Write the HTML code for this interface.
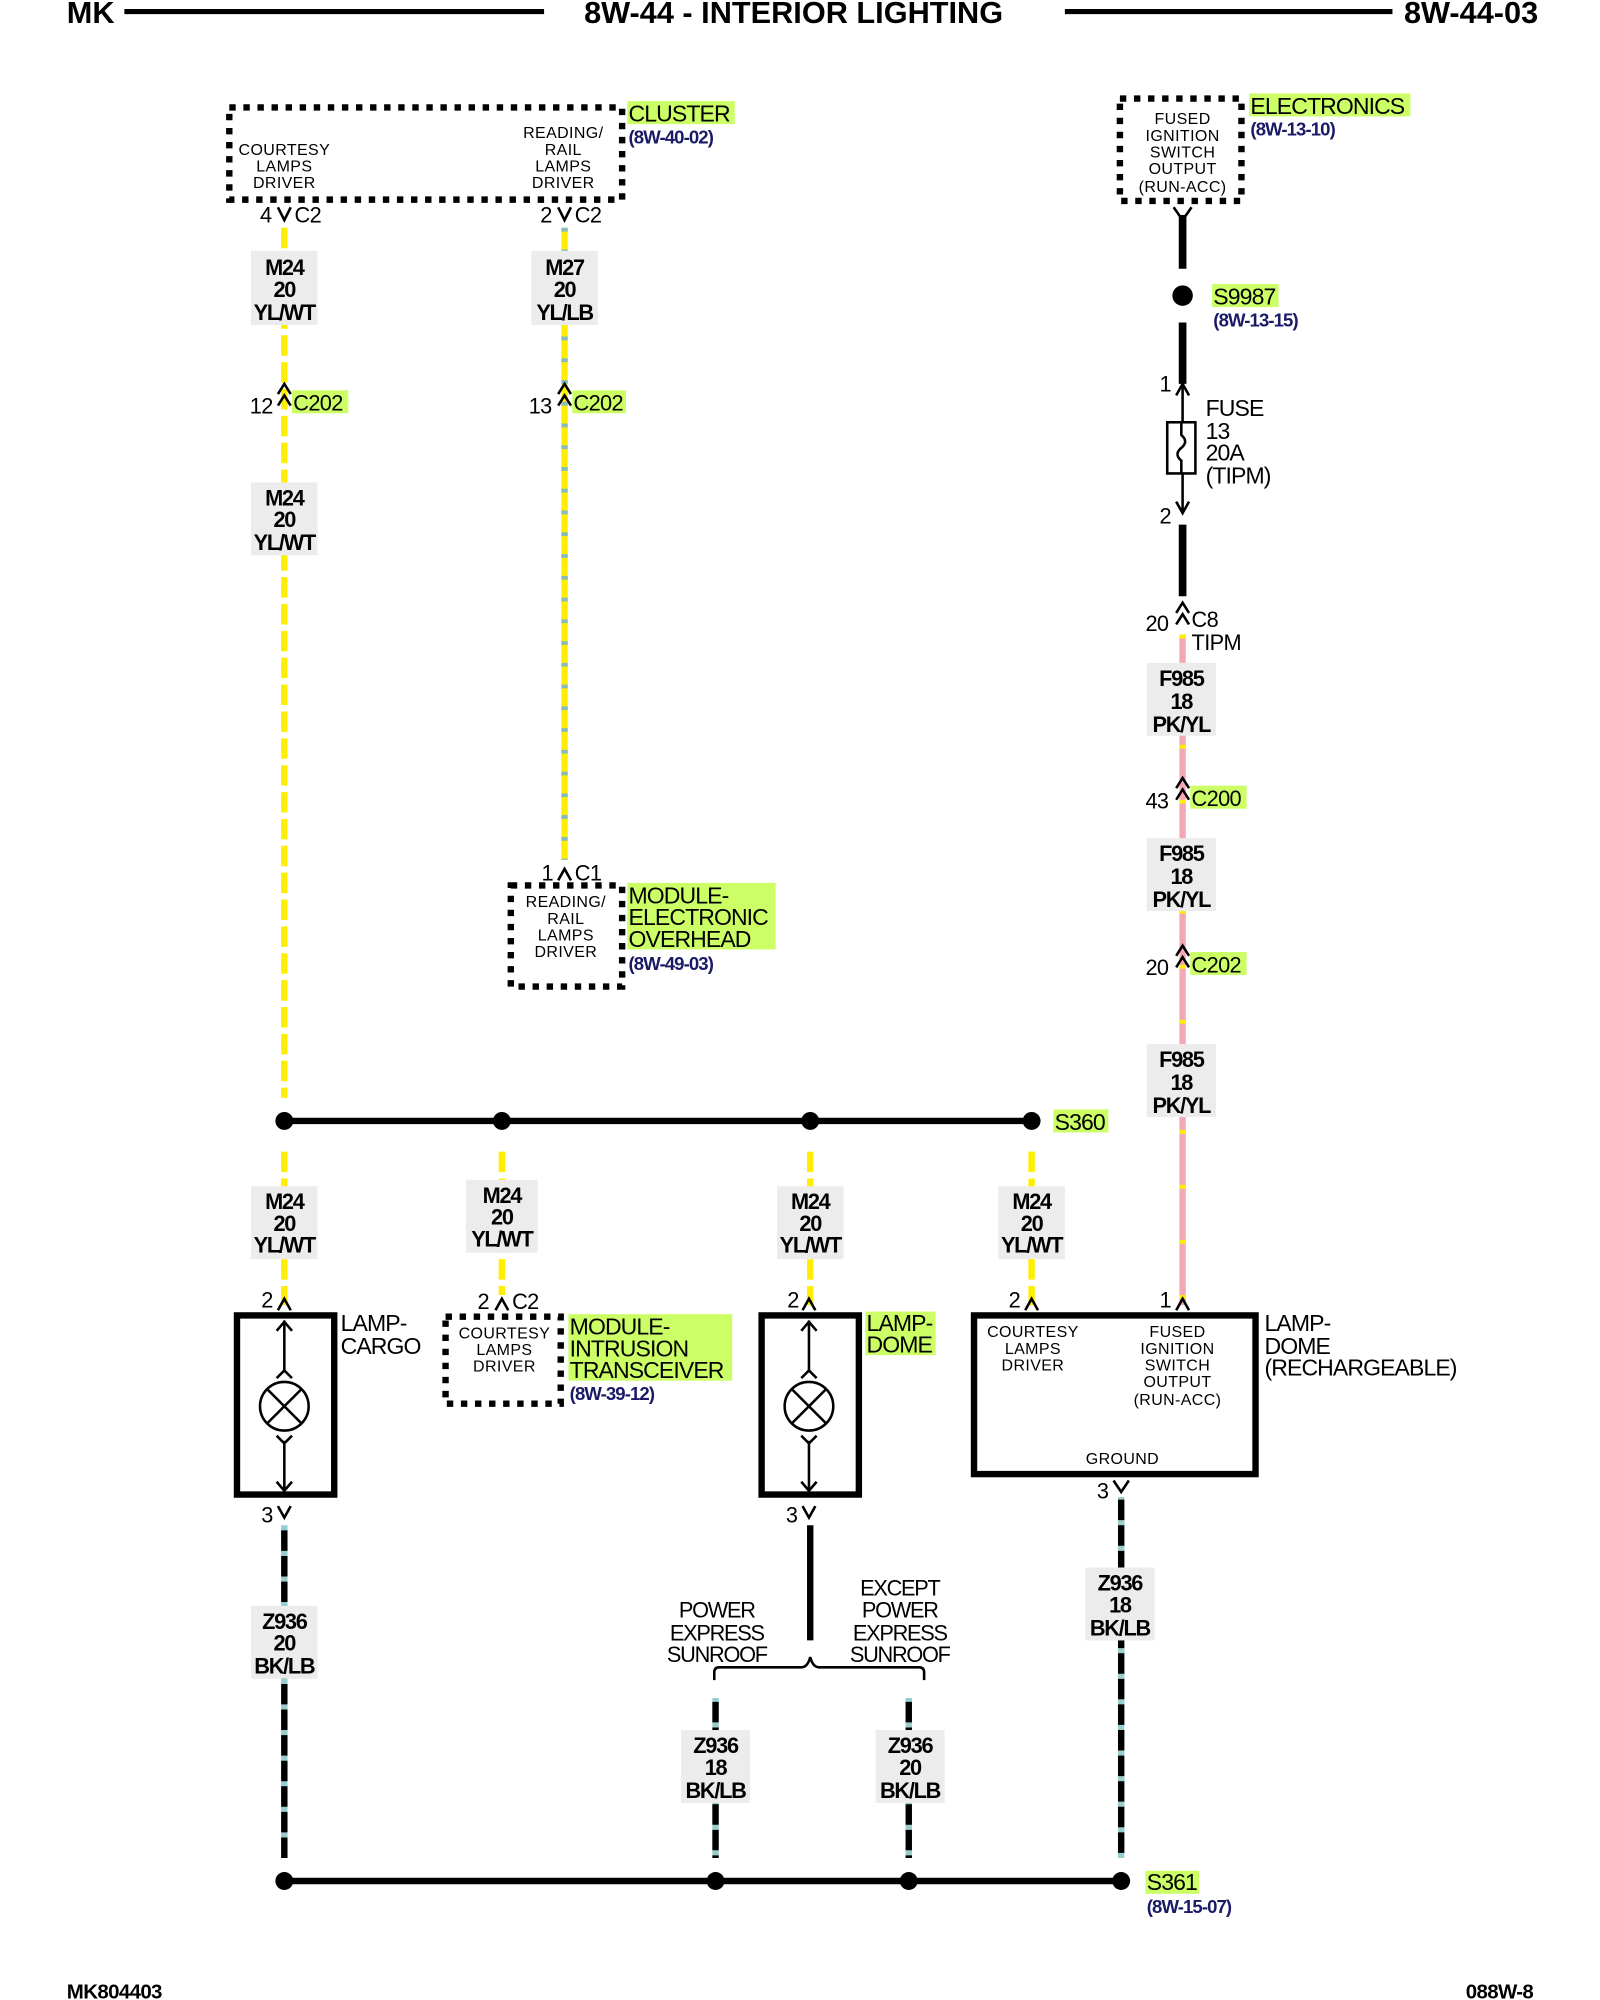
<!DOCTYPE html>
<html><head><meta charset="utf-8"><style>
html,body{margin:0;padding:0;background:#fff}
svg{display:block}
text{font-family:"Liberation Sans",sans-serif;fill:#000}
.t{font-size:24px;font-weight:bold}
.w{font-size:17px;font-weight:bold;letter-spacing:-1px;text-anchor:middle}
.n{font-size:17px;letter-spacing:-0.5px}
.s{font-size:12.5px;text-anchor:middle;letter-spacing:0.3px}
.r{font-size:14.5px;fill:#1a1a66;letter-spacing:-0.7px;font-weight:bold}
.b{font-size:18px;letter-spacing:-0.7px}
</style></head><body>
<svg width="1600" height="2000" viewBox="0 0 1250 1563" xmlns="http://www.w3.org/2000/svg">
<text class="t" x="52" y="18">MK</text>
<line x1="97" y1="9" x2="425" y2="9" stroke="#000" stroke-width="4"/>
<text class="t" x="620" y="18" text-anchor="middle">8W-44 - INTERIOR LIGHTING</text>
<line x1="832" y1="9" x2="1088" y2="9" stroke="#000" stroke-width="4"/>
<text class="t" x="1097" y="18">8W-44-03</text>

<g fill="#ccff66">
<rect x="490" y="79" width="84" height="18"/>
<rect x="976" y="73" width="126" height="18"/>
<rect x="947" y="222" width="52" height="18"/>
<rect x="447" y="305" width="42" height="18"/>
<rect x="228" y="305" width="44" height="18"/>
<rect x="490" y="690" width="116" height="52"/>
<rect x="930" y="614" width="44" height="18"/>
<rect x="930" y="744" width="44" height="18"/>
<rect x="823" y="867" width="43" height="18"/>
<rect x="444" y="1027" width="128" height="52"/>
<rect x="676" y="1025" width="55" height="34"/>
<rect x="895" y="1462" width="42" height="18"/>
</g>

<g stroke-width="5" fill="none">
<line x1="222" y1="178" x2="222" y2="858" stroke="#ffee00" stroke-dasharray="16 5"/>
<line x1="441" y1="178" x2="441" y2="672" stroke="#ffee00"/>
<line x1="441" y1="178" x2="441" y2="672" stroke="#88bbbb" stroke-dasharray="3 14"/>
<line x1="222" y1="900" x2="222" y2="1020" stroke="#ffee00" stroke-dasharray="16 5"/>
<line x1="392" y1="900" x2="392" y2="1012" stroke="#ffee00" stroke-dasharray="16 5"/>
<line x1="633" y1="900" x2="633" y2="1020" stroke="#ffee00" stroke-dasharray="16 5"/>
<line x1="806" y1="900" x2="806" y2="1020" stroke="#ffee00" stroke-dasharray="16 5"/>
<line x1="924" y1="496" x2="924" y2="1020" stroke="#f4a8b4"/>
<line x1="924" y1="496" x2="924" y2="1020" stroke="#ffee00" stroke-dasharray="3 40"/>
<line x1="924" y1="168" x2="924" y2="210" stroke="#000" stroke-width="6"/>
<line x1="924" y1="252" x2="924" y2="300" stroke="#000" stroke-width="6"/>
<line x1="924" y1="300" x2="924" y2="400" stroke="#000" stroke-width="2"/>
<line x1="924" y1="410" x2="924" y2="466" stroke="#000" stroke-width="6"/>
<line x1="222" y1="1192" x2="222" y2="1452" stroke="#9cc"/>
<line x1="222" y1="1196" x2="222" y2="1452" stroke="#000" stroke-dasharray="16 4"/>
<line x1="559" y1="1327" x2="559" y2="1452" stroke="#9cc"/>
<line x1="559" y1="1330" x2="559" y2="1452" stroke="#000" stroke-dasharray="16 4"/>
<line x1="710" y1="1327" x2="710" y2="1452" stroke="#9cc"/>
<line x1="710" y1="1330" x2="710" y2="1452" stroke="#000" stroke-dasharray="16 4"/>
<line x1="876" y1="1170" x2="876" y2="1452" stroke="#9cc"/>
<line x1="876" y1="1172" x2="876" y2="1452" stroke="#000" stroke-dasharray="16 4"/>
<line x1="633" y1="1192" x2="633" y2="1282" stroke="#000"/>
</g>

<g fill="#ececec">
<rect x="196" y="196" width="52" height="58"/>
<rect x="196" y="377" width="52" height="57"/>
<rect x="415" y="196" width="52" height="58"/>
<rect x="896" y="518" width="54" height="57"/>
<rect x="896" y="655" width="54" height="57"/>
<rect x="896" y="816" width="54" height="57"/>
<rect x="196" y="927" width="52" height="57"/>
<rect x="364" y="922" width="56" height="57"/>
<rect x="607" y="927" width="52" height="57"/>
<rect x="780" y="927" width="52" height="57"/>
<rect x="196" y="1255" width="52" height="57"/>
<rect x="532" y="1352" width="54" height="57"/>
<rect x="684" y="1352" width="54" height="57"/>
<rect x="848" y="1225" width="54" height="57"/>
</g>

<line x1="222" y1="876" x2="806" y2="876" stroke="#000" stroke-width="5"/>
<line x1="222" y1="1470" x2="876" y2="1470" stroke="#000" stroke-width="5"/>
<g fill="#000">
<circle cx="222" cy="876" r="7"/><circle cx="392" cy="876" r="7"/><circle cx="633" cy="876" r="7"/><circle cx="806" cy="876" r="7"/>
<circle cx="222" cy="1470" r="7"/><circle cx="559" cy="1470" r="7"/><circle cx="710" cy="1470" r="7"/><circle cx="876" cy="1470" r="7"/>
<circle cx="924" cy="231" r="8"/>
</g>

<g fill="none" stroke="#000" stroke-width="5" stroke-dasharray="5 6">
<rect x="179" y="84" width="307" height="72"/>
<rect x="875" y="77" width="95" height="80"/>
<rect x="399" y="692" width="87" height="79"/>
<rect x="348" y="1029" width="90" height="68"/>
</g>

<g fill="none" stroke="#000" stroke-width="5">
<rect x="185" y="1028" width="76" height="140"/>
<rect x="595" y="1028" width="76" height="140"/>
<rect x="761" y="1028" width="220" height="124"/>
</g>
<g fill="none" stroke="#000" stroke-width="2">
<circle cx="222" cy="1099" r="19"/><line x1="209" y1="1086" x2="235" y2="1112"/><line x1="235" y1="1086" x2="209" y2="1112"/>
<line x1="222" y1="1032" x2="222" y2="1072"/><line x1="222" y1="1126" x2="222" y2="1164"/>
<polyline points="216,1040 222,1033 228,1040"/><polyline points="216,1077 222,1071 228,1077"/>
<polyline points="216,1122 222,1128 228,1122"/><polyline points="216,1158 222,1165 228,1158"/>
<circle cx="632" cy="1099" r="19"/><line x1="619" y1="1086" x2="645" y2="1112"/><line x1="645" y1="1086" x2="619" y2="1112"/>
<line x1="632" y1="1032" x2="632" y2="1072"/><line x1="632" y1="1126" x2="632" y2="1164"/>
<polyline points="626,1040 632,1033 638,1040"/><polyline points="626,1077 632,1071 638,1077"/>
<polyline points="626,1122 632,1128 638,1122"/><polyline points="626,1158 632,1165 638,1158"/>
<rect x="912" y="330" width="22" height="40" fill="#fff"/>
<path d="M923,330 v10 q6,5 0,10 q-6,5 0,10 v10"/>
<polyline points="919,309 924,300 929,309"/><polyline points="919,392 924,401 929,392"/>
<polyline points="217,162 222,172 227,162"/><polyline points="436,162 441,172 446,162"/>
<polyline points="917,162 924,172 931,162"/>
<polyline points="217,308 222,300 227,308"/><polyline points="217,317 222,309 227,317"/>
<polyline points="436,308 441,300 446,308"/><polyline points="436,317 441,309 446,317"/>
<polyline points="919,479 924,471 929,479"/><polyline points="919,488 924,480 929,488"/>
<polyline points="919,616 924,608 929,616"/><polyline points="919,625 924,617 929,625"/>
<polyline points="919,747 924,739 929,747"/><polyline points="919,756 924,748 929,756"/>
<polyline points="436,688 441,679 446,688"/>
<polyline points="217,1024 222,1015 227,1024"/><polyline points="387,1024 392,1015 397,1024"/>
<polyline points="627,1024 632,1015 637,1024"/><polyline points="801,1024 806,1015 811,1024"/>
<polyline points="919,1024 924,1015 929,1024"/>
<polyline points="217,1177 222,1186 227,1177"/><polyline points="627,1177 632,1186 637,1177"/>
<polyline points="870,1157 876,1166 882,1157"/>
<path d="M558,1313 v-6 q0,-4 4,-4 h64 q5,0 7,-8 q2,8 7,8 h78 q4,0 4,4 v6"/>
</g>

<text class="s" x="222" y="121">COURTESY</text><text class="s" x="222" y="134">LAMPS</text><text class="s" x="222" y="147">DRIVER</text>
<text class="s" x="440" y="108">READING/</text><text class="s" x="440" y="121">RAIL</text><text class="s" x="440" y="134">LAMPS</text><text class="s" x="440" y="147">DRIVER</text>
<text class="s" x="924" y="97">FUSED</text><text class="s" x="924" y="110">IGNITION</text><text class="s" x="924" y="123">SWITCH</text><text class="s" x="924" y="136">OUTPUT</text><text class="s" x="924" y="150">(RUN-ACC)</text>
<text class="s" x="442" y="709">READING/</text><text class="s" x="442" y="722">RAIL</text><text class="s" x="442" y="735">LAMPS</text><text class="s" x="442" y="748">DRIVER</text>
<text class="s" x="394" y="1046">COURTESY</text><text class="s" x="394" y="1059">LAMPS</text><text class="s" x="394" y="1072">DRIVER</text>
<text class="s" x="807" y="1045">COURTESY</text><text class="s" x="807" y="1058">LAMPS</text><text class="s" x="807" y="1071">DRIVER</text>
<text class="s" x="920" y="1045">FUSED</text><text class="s" x="920" y="1058">IGNITION</text><text class="s" x="920" y="1071">SWITCH</text><text class="s" x="920" y="1084">OUTPUT</text><text class="s" x="920" y="1098">(RUN-ACC)</text>
<text class="s" x="877" y="1144">GROUND</text>

<text class="b" x="491" y="95">CLUSTER</text><text class="r" x="491" y="112">(8W-40-02)</text>
<text class="b" x="977" y="89">ELECTRONICS</text><text class="r" x="977" y="106">(8W-13-10)</text>
<text class="b" x="948" y="238">S9987</text><text class="r" x="948" y="255">(8W-13-15)</text>
<text class="b" x="491" y="706">MODULE-</text><text class="b" x="491" y="723">ELECTRONIC</text><text class="b" x="491" y="740">OVERHEAD</text><text class="r" x="491" y="758">(8W-49-03)</text>
<text class="b" x="824" y="883">S360</text>
<text class="b" x="266" y="1040">LAMP-</text><text class="b" x="266" y="1058">CARGO</text>
<text class="b" x="445" y="1043">MODULE-</text><text class="b" x="445" y="1060">INTRUSION</text><text class="b" x="445" y="1077">TRANSCEIVER</text><text class="r" x="445" y="1094">(8W-39-12)</text>
<text class="b" x="677" y="1040">LAMP-</text><text class="b" x="677" y="1057">DOME</text>
<text class="b" x="988" y="1040">LAMP-</text><text class="b" x="988" y="1058">DOME</text><text class="b" x="988" y="1075">(RECHARGEABLE)</text>
<text class="b" x="942" y="325">FUSE</text><text class="b" x="942" y="343">13</text><text class="b" x="942" y="360">20A</text><text class="b" x="942" y="378">(TIPM)</text>
<text class="b" x="896" y="1477">S361</text><text class="r" x="896" y="1495">(8W-15-07)</text>

<text class="n" x="203" y="174">4</text><text class="n" x="230" y="174">C2</text>
<text class="n" x="422" y="174">2</text><text class="n" x="449" y="174">C2</text>
<text class="n" x="195" y="323">12</text><text class="n" x="229" y="321">C202</text>
<text class="n" x="413" y="323">13</text><text class="n" x="448" y="321">C202</text>
<text class="n" x="423" y="688">1</text><text class="n" x="449" y="688">C1</text>
<text class="n" x="906" y="306">1</text><text class="n" x="906" y="409">2</text>
<text class="n" x="895" y="493">20</text><text class="n" x="931" y="490">C8</text><text class="n" x="931" y="508">TIPM</text>
<text class="n" x="895" y="632">43</text><text class="n" x="931" y="630">C200</text>
<text class="n" x="895" y="762">20</text><text class="n" x="931" y="760">C202</text>
<text class="n" x="204" y="1022">2</text><text class="n" x="373" y="1023">2</text><text class="n" x="400" y="1023">C2</text>
<text class="n" x="615" y="1022">2</text><text class="n" x="788" y="1022">2</text><text class="n" x="906" y="1022">1</text>
<text class="n" x="204" y="1190">3</text><text class="n" x="614" y="1190">3</text><text class="n" x="857" y="1171">3</text>

<text class="w" x="222" y="215">M24</text><text class="w" x="222" y="232">20</text><text class="w" x="222" y="250">YL/WT</text>
<text class="w" x="441" y="215">M27</text><text class="w" x="441" y="232">20</text><text class="w" x="441" y="250">YL/LB</text>
<text class="w" x="222" y="395">M24</text><text class="w" x="222" y="412">20</text><text class="w" x="222" y="430">YL/WT</text>
<text class="w" x="923" y="536">F985</text><text class="w" x="923" y="554">18</text><text class="w" x="923" y="572">PK/YL</text>
<text class="w" x="923" y="673">F985</text><text class="w" x="923" y="691">18</text><text class="w" x="923" y="709">PK/YL</text>
<text class="w" x="923" y="834">F985</text><text class="w" x="923" y="852">18</text><text class="w" x="923" y="870">PK/YL</text>
<text class="w" x="222" y="945">M24</text><text class="w" x="222" y="962">20</text><text class="w" x="222" y="979">YL/WT</text>
<text class="w" x="392" y="940">M24</text><text class="w" x="392" y="957">20</text><text class="w" x="392" y="974">YL/WT</text>
<text class="w" x="633" y="945">M24</text><text class="w" x="633" y="962">20</text><text class="w" x="633" y="979">YL/WT</text>
<text class="w" x="806" y="945">M24</text><text class="w" x="806" y="962">20</text><text class="w" x="806" y="979">YL/WT</text>
<text class="w" x="222" y="1273">Z936</text><text class="w" x="222" y="1290">20</text><text class="w" x="222" y="1308">BK/LB</text>
<text class="w" x="559" y="1370">Z936</text><text class="w" x="559" y="1387">18</text><text class="w" x="559" y="1405">BK/LB</text>
<text class="w" x="711" y="1370">Z936</text><text class="w" x="711" y="1387">20</text><text class="w" x="711" y="1405">BK/LB</text>
<text class="w" x="875" y="1243">Z936</text><text class="w" x="875" y="1260">18</text><text class="w" x="875" y="1278">BK/LB</text>

<text class="w" x="560" y="1264" style="font-weight:normal">POWER</text><text class="w" x="560" y="1282" style="font-weight:normal">EXPRESS</text><text class="w" x="560" y="1299" style="font-weight:normal">SUNROOF</text>
<text class="w" x="703" y="1247" style="font-weight:normal">EXCEPT</text><text class="w" x="703" y="1264" style="font-weight:normal">POWER</text><text class="w" x="703" y="1282" style="font-weight:normal">EXPRESS</text><text class="w" x="703" y="1299" style="font-weight:normal">SUNROOF</text>

<text x="52" y="1562" style="font-size:16px;font-weight:bold;letter-spacing:-0.5px">MK804403</text>
<text x="1198" y="1562" text-anchor="end" style="font-size:16px;font-weight:bold;letter-spacing:-0.5px">088W-8</text>
</svg>
</body></html>
